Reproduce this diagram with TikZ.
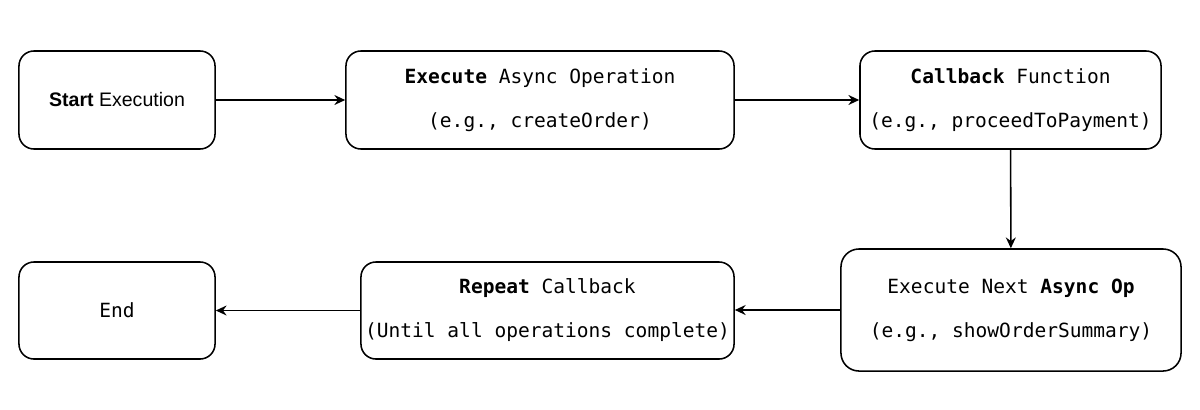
\documentclass[tikz,border=0pt]{standalone}
\usepackage{fontspec}
\setmainfont{Liberation Sans}
\setmonofont{DejaVu Sans Mono}
\usetikzlibrary{arrows.meta}

\begin{document}
\begin{tikzpicture}[x=0.025cm, y=-0.025cm,
    box/.style={draw, line width=1.1pt, rounded corners=0.375cm, align=center, inner sep=0pt,
        minimum height=2.45cm, font=\fontsize{13.9}{31.3}\selectfont\ttfamily},
    flow/.style={-{Stealth[length=0.27cm, width=0.25cm, inset=0.09cm]}, line width=1.1pt}]
    \useasboundingbox (0,0) rectangle (1200,409);

    % top row
    \node[box, minimum width=4.9cm, font=\fontsize{13.9}{31.3}\selectfont\rmfamily] (start) at (117,100) {\textbf{Start} Execution};
    \node[box, minimum width=9.7cm] (exec) at (540,100) {\textbf{Execute} Async Operation\\(e.g., createOrder)};
    \node[box, minimum width=7.525cm] (cb) at (1010.5,100) {\textbf{Callback} Function\\(e.g., proceedToPayment)};

    % bottom row
    \node[box, minimum width=8.5cm, minimum height=3.05cm, rounded corners=0.45cm] (next) at (1011,310) {Execute Next \textbf{Async Op}\\(e.g., showOrderSummary)};
    \node[box, minimum width=9.325cm, minimum height=2.425cm] (rep) at (547.5,310.5) {\textbf{Repeat} Callback\\(Until all operations complete)};
    \node[box, minimum width=4.9cm, minimum height=2.425cm] (end) at (117,310.5) {End};

    \draw[flow] (start) -- (exec);
    \draw[flow] (exec) -- (cb);
    \draw[flow] (cb) -- (next);
    \draw[flow] (next.west) -- (rep.east |- next.west);
    \draw[flow] (rep) -- (end);
\end{tikzpicture}
\end{document}
